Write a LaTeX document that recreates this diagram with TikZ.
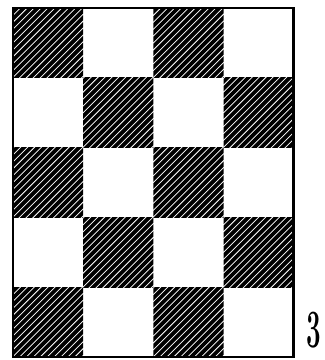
\documentclass[tikz,border=0pt]{standalone}
\begin{document}
\begin{tikzpicture}[x=1pt,y=-1pt,
  hatch/.style={line width=3.8pt,black},
  frame/.style={line width=2.8pt,black},
  label/.style={inner sep=0pt,font=\fontsize{54}{54}\selectfont\bfseries}]
\useasboundingbox (0,0) rectangle (325,360);
\def\L{13}\def\T{8}\def\W{70.2}\def\H{69.8}
\foreach \r in {0,...,4}{
  \foreach \c in {0,...,3}{
    \pgfmathtruncatemacro\p{mod(\r+\c,2)}
    \ifnum\p=0
      \begin{scope}
        \clip ({\L+\c*\W},{\T+\r*\H}) rectangle ++(\W,\H);
        \foreach \k in {0,...,22}{
          \draw[hatch] ({\L+\c*\W-\H-6+\k*6.9},{\T+(\r+1)*\H+3}) -- ++(\H+12,-\H-12);
        }
      \end{scope}
    \fi
  }
}
\draw[frame] (\L,\T) rectangle ({\L+4*\W},{\T+5*\H});
\node[label] (three) at (313.5,330) {\scalebox{0.48}[1]{3}};
\end{tikzpicture}
\end{document}
